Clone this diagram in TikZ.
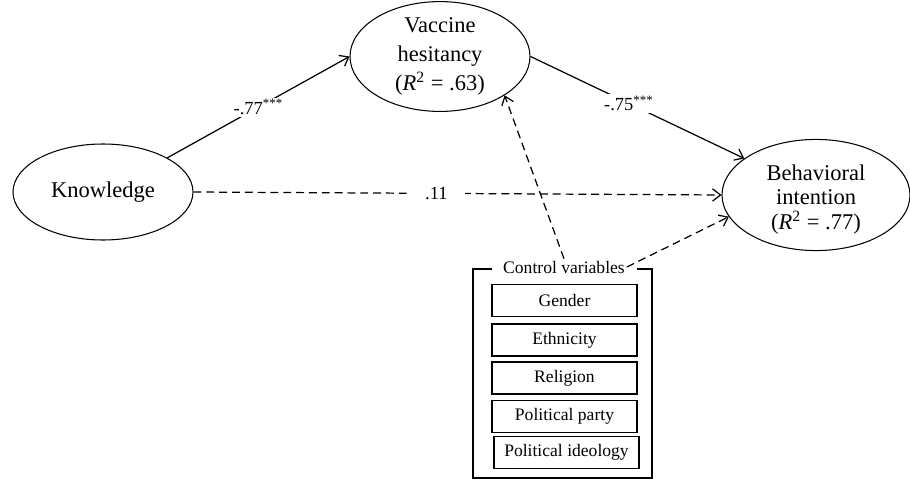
\documentclass[tikz,border=0pt]{standalone}
\usepackage{fontspec}
\setmainfont{Liberation Serif}
\usepackage{tikz}
\usetikzlibrary{arrows.meta,shapes.geometric}
\newcommand{\latfont}{\fontsize{12.8pt}{15pt}\selectfont}
\newcommand{\coeffont}{\fontsize{10.5pt}{12pt}\selectfont}
\newcommand{\ctrlfont}{\fontsize{10pt}{12pt}\selectfont}
\tikzset{
  >={Straight Barb[length=4.5pt,width=7pt]},
  lat/.style    ={ellipse, draw, line width=0.6pt, inner sep=0pt,
                  font=\latfont, align=center},
  ctrl/.style   ={rectangle, draw, line width=0.6pt, minimum width=2.9cm,
                  minimum height=0.64cm, inner sep=1pt, font=\ctrlfont},
  eff/.style    ={->, draw, line width=0.7pt},
  ctleff/.style ={->, draw, line width=0.7pt, dash pattern=on 4.5pt off 2.8pt},
  coef/.style   ={font=\coeffont, fill=white, inner sep=1pt},
}

\begin{document}
\begin{tikzpicture}
\useasboundingbox (0,0) rectangle (18.2,-9.58);
\node[lat, minimum width=3.6cm, minimum height=1.92cm] (kn) at (2.06,-3.84) {Knowledge};
\node[lat, minimum width=3.6cm, minimum height=1.66cm] (vh) at (8.8,-1.13) {Vaccine\\[1.5pt]hesitancy\\[1.5pt](\textit{R}\textsuperscript{2} = .63)};
\node[lat, minimum width=3.76cm, minimum height=1.88cm] (bi) at (16.32,-3.9) {\rule{0pt}{14pt}Behavioral\\[-1pt]intention\\[-1pt](\textit{R}\textsuperscript{2} = .77)};
% control variables
\draw[line width=0.8pt] (9.84,-5.38) -| (9.46,-9.56) -| (13.04,-5.38) -- (12.74,-5.38);
\node[font=\ctrlfont, inner sep=1pt, anchor=base] (cvtitle) at (11.28,-5.46) {Control variables};
\node[ctrl] (gen) at (11.29,-6.01) {Gender};
\node[ctrl] (eth) at (11.29,-6.80) {Ethnicity};
\node[ctrl] (rel) at (11.29,-7.56) {Religion};
\node[ctrl] (pty) at (11.29,-8.33) {Political party};
\node[ctrl] (ideo) at (11.33,-9.05) {Political ideology};
% paths
\draw[eff] (kn.28) -- node[coef] {-.77\textsuperscript{***}} (vh.west);
\draw[eff] (vh.east) -- node[coef, pos=0.46] {-.75\textsuperscript{***}} (bi.153);
\draw[ctleff] (kn.east) -- node[coef, pos=0.46, inner xsep=10pt] {.11} (bi.west);
\draw[ctleff] (cvtitle.north) -- (vh.-31);
\draw[ctleff] (cvtitle.east) -- (bi.194);
\end{tikzpicture}
\end{document}
